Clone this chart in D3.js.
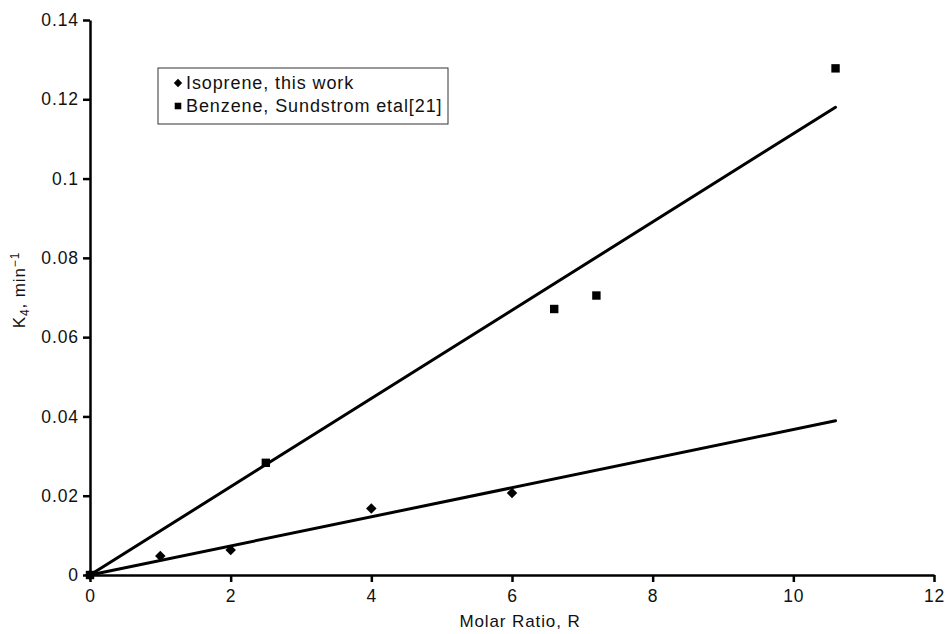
<!DOCTYPE html>
<html lang="en">
    <head>
        <meta charset="utf-8">
        <title>Molar ratio vs K4</title>
        <script type="text/javascript" src="https://cdn.jsdelivr.net/npm/d3@7"></script>
        <style>
            body { margin: 0; background: #fff; }
            .axis path,
            .axis line {
                fill: none;
                stroke: black;
                stroke-width: 2.5px;
            }
            .axis text {
                font-family: "Liberation Sans", Arial, sans-serif;
                font-size: 17.5px;
                letter-spacing: 0.9px;
                fill: #111;
            }
            text { font-family: "Liberation Sans", Arial, sans-serif; letter-spacing: 0.9px; }
        </style>
    </head>
    <body>
        <script type="text/javascript">
            var w = 948;
            var h = 634;

            // data
            var isopreneR = [0, 1, 2, 4, 6];
            var isopreneK = [0, 0.0048, 0.0063, 0.0168, 0.0207];
            var benzeneR = [0, 2.5, 6.6, 7.2, 10.6];
            var benzeneK = [0, 0.0283, 0.0671, 0.0705, 0.1278];
            // fitted lines (end points)
            var isopreneFitR = [0, 10.6];
            var isopreneFitK = [0, 0.0389];
            var benzeneFitR = [0, 10.6];
            var benzeneFitK = [0, 0.1180];

            var xTicks = [0, 2, 4, 6, 8, 10, 12];
            var yTicks = [0, 0.02, 0.04, 0.06, 0.08, 0.1, 0.12, 0.14];
            var legendLabels = ["Isoprene, this work", "Benzene, Sundstrom etal[21]"];

            var xscale = d3.scaleLinear().domain([0, 12]).range([90, 934]);
            var yscale = d3.scaleLinear().domain([0, 0.14]).range([575, 20]);

            var svg = d3.select("body").append("svg").attr("width", w).attr("height", h);

            var xaxis = d3.axisBottom(xscale).tickValues(xTicks).tickSize(7).tickSizeOuter(0)
                          .tickFormat(d3.format("d"));
            var yaxis = d3.axisLeft(yscale).tickValues(yTicks).tickSize(7).tickSizeOuter(0)
                          .tickFormat(function(d) { return d === 0 ? "0" : String(+d.toFixed(2)); });

            svg.append("g").attr("class", "x axis")
               .attr("transform", "translate(0," + yscale(0) + ")")
               .call(xaxis)
               .selectAll("text").attr("dy", "0.95em");
            svg.append("g").attr("class", "y axis")
               .attr("transform", "translate(" + xscale(0) + ",0)")
               .call(yaxis)
               .selectAll("text").attr("x", -11);

            // fit lines
            var fits = [[isopreneFitR, isopreneFitK], [benzeneFitR, benzeneFitK]];
            var line = d3.line().x(function(d) { return xscale(d[0]); }).y(function(d) { return yscale(d[1]); });
            svg.selectAll("path.fit").data(fits).enter().append("path")
               .attr("class", "fit")
               .attr("d", function(f) { return line(d3.zip(f[0], f[1])); })
               .attr("fill", "none")
               .attr("stroke", "black")
               .attr("stroke-width", 3)
               .attr("stroke-linecap", "round");

            // markers
            var diamond = d3.symbol().type(d3.symbolDiamond2).size(70);
            var square = d3.symbol().type(d3.symbolSquare2).size(90);

            svg.selectAll("path.iso").data(d3.zip(isopreneR, isopreneK)).enter().append("path")
               .attr("class", "iso")
               .attr("d", diamond)
               .attr("transform", function(d) { return "translate(" + xscale(d[0]) + "," + yscale(d[1]) + ")"; })
               .attr("fill", "black");
            svg.selectAll("path.benz").data(d3.zip(benzeneR, benzeneK)).enter().append("path")
               .attr("class", "benz")
               .attr("d", square)
               .attr("transform", function(d) { return "translate(" + xscale(d[0]) + "," + yscale(d[1]) + ")"; })
               .attr("fill", "black");

            // legend
            var legend = svg.append("g").attr("transform", "translate(158,68)");
            legend.append("rect").attr("x", 0).attr("y", 0).attr("width", 290).attr("height", 56)
                  .attr("fill", "white").attr("stroke", "#333").attr("stroke-width", 1);
            var items = legend.selectAll("g.item").data(legendLabels).enter().append("g")
                  .attr("transform", function(d, i) { return "translate(0," + (15 + i * 23) + ")"; });
            items.append("path")
                 .attr("d", function(d, i) { return i === 0 ? d3.symbol().type(d3.symbolDiamond2).size(45)() : d3.symbol().type(d3.symbolSquare2).size(55)(); })
                 .attr("transform", "translate(20,0)")
                 .attr("fill", "black");
            items.append("text").text(function(d) { return d; })
                 .attr("x", 28).attr("dy", "0.35em")
                 .attr("font-size", "18px").attr("fill", "#111");

            // axis titles
            svg.append("text").text("Molar Ratio, R")
               .attr("x", 520).attr("y", 627)
               .attr("text-anchor", "middle").attr("font-size", "17px").attr("fill", "#111");

            var yt = svg.append("text")
               .attr("transform", "translate(25,290) rotate(-90)")
               .attr("text-anchor", "middle").attr("font-size", "17px").attr("fill", "#111");
            yt.append("tspan").text("K");
            yt.append("tspan").text("4").attr("font-size", "12px").attr("dy", "4");
            yt.append("tspan").text(", min").attr("dy", "-4");
            yt.append("tspan").text("\u22121").attr("font-size", "12px").attr("dy", "-6");
        </script>
    </body>
</html>
